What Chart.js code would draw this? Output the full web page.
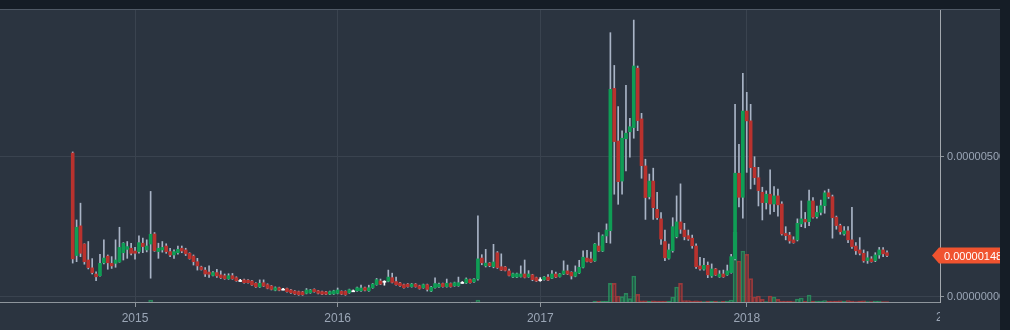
<!DOCTYPE html>
<html lang="en">
<head>
<meta charset="UTF-8">
<title>Weekly candles</title>
<script src="https://cdn.jsdelivr.net/npm/chart.js"></script>
<style>
  html, body { margin: 0; padding: 0; background: #2b3440; }
</style>
</head>
<body>
<canvas id="priceChart" width="1010" height="330"></canvas>
<script>
// weekly candles, prices in satoshi (1e-8)
const open = [
  514,148,254,189,132,104,82,76,122,146,
  120,120,125,158,170,174,164,162,192,168,
  189,225,162,168,182,162,150,158,174,168,
  156,146,126,107,96,89,77,87,79,76,
  65,76,69,59,61,60,57,49,36,51,
  44,39,24,33,28,30,25,21,19,18,
  13,15,27,22,19,18,10,11,13,20,
  20,15,22,22,22,33,22,33,44,57,
  56,56,69,55,50,44,46,37,46,40,
  33,44,21,33,36,48,37,48,40,40,
  52,50,62,54,64,139,111,121,108,158,
  108,107,93,71,71,73,82,72,79,69,
  62,62,71,67,82,73,82,93,88,74,
  86,106,139,136,129,182,164,218,237,745,
  557,414,565,590,605,817,636,468,358,414,
  313,279,198,138,165,215,268,239,219,210,
  182,111,99,113,75,100,72,82,79,87,
  136,442,356,664,629,463,426,374,337,367,
  332,361,332,227,221,204,204,261,277,269,
  343,287,302,326,372,358,285,255,225,236,
  204,182,168,156,130,136,130,150,168,158
];
const high = [
  518,275,335,190,198,137,90,152,204,150,
  144,204,249,194,198,192,177,218,210,204,
  377,230,192,198,190,174,168,182,182,174,
  158,150,138,110,105,111,91,99,93,82,
  83,84,72,63,64,62,59,51,61,61,
  47,41,36,35,31,32,27,23,21,20,
  30,27,29,24,21,20,21,24,32,22,
  22,28,25,35,42,35,42,48,66,64,
  58,96,85,71,52,46,48,48,48,42,
  46,46,38,68,50,50,64,50,53,71,
  55,68,64,66,290,151,170,123,188,162,
  154,109,100,85,85,111,132,94,81,71,
  69,73,80,94,89,84,129,114,90,111,
  131,165,167,160,191,230,222,261,944,827,
  680,593,756,638,989,825,656,492,439,460,
  374,301,239,189,283,361,404,263,239,221,
  190,142,138,125,118,102,94,96,114,152,
  688,545,799,731,688,501,463,392,379,454,
  394,385,340,251,231,215,279,343,302,382,
  355,325,346,379,385,364,289,260,251,251,
  320,194,212,168,162,144,158,177,176,165
];
const low = [
  121,126,144,117,100,82,58,74,118,99,
  102,106,124,132,138,150,135,156,158,161,
  67,163,138,160,156,144,138,153,158,148,
  135,114,96,96,73,70,75,70,66,63,
  63,63,56,55,49,49,41,34,34,37,
  29,25,22,22,25,17,13,9,6,6,
  11,13,17,11,8,8,8,9,11,8,
  6,13,19,20,20,22,20,31,42,44,
  42,54,50,42,38,31,35,35,35,28,
  31,21,19,31,34,35,35,35,38,38,
  49,48,49,52,60,115,107,108,104,102,
  94,93,75,69,69,71,68,70,58,55,
  56,60,58,65,69,71,80,80,64,72,
  84,104,125,123,127,162,162,194,192,367,
  331,367,450,499,567,594,424,277,350,277,
  277,188,130,135,160,211,227,204,202,174,
  102,96,96,69,70,77,70,70,77,85,
  132,322,281,445,386,402,325,275,314,296,
  305,289,221,204,192,192,200,251,247,255,
  281,281,293,299,352,210,242,224,221,194,
  173,152,150,124,120,124,126,138,144,144
];
const close = [
  136,249,156,126,105,87,72,120,139,122,
  111,132,177,192,180,156,156,194,180,182,
  224,165,174,177,162,150,162,170,164,154,
  137,126,111,98,82,81,87,75,69,65,
  76,65,58,59,51,51,43,36,49,39,
  31,27,33,24,28,19,15,11,8,8,
  25,25,19,13,10,10,19,22,25,10,
  8,26,22,33,32,24,33,46,62,46,
  56,71,52,44,40,33,37,46,37,30,
  44,27,35,48,46,37,49,37,51,51,
  52,64,51,64,136,122,121,112,125,105,
  96,95,77,83,83,82,70,82,62,57,
  62,71,60,82,71,82,93,82,75,89,
  106,142,127,125,189,164,218,239,742,555,
  412,567,585,608,825,630,469,355,414,319,
  283,207,140,168,251,268,242,215,207,183,
  108,100,113,79,100,79,82,72,93,144,
  442,356,664,629,462,426,380,337,367,332,
  361,329,225,219,200,194,263,279,268,343,
  285,302,326,372,358,283,255,233,236,204,
  180,165,156,129,140,126,150,168,154,148
];
const volume = [
  0,0,0,0,0,0,0,0,0,0,
  0,0,0,0,0,0,0,0,0,0,
  20,0,0,0,0,0,0,0,0,0,
  0,0,0,0,0,0,0,0,0,0,
  0,0,0,0,0,0,0,0,0,0,
  0,0,0,0,0,0,0,0,0,0,
  0,0,0,0,0,0,0,0,0,0,
  0,0,0,0,0,0,0,0,0,0,
  0,0,0,0,0,0,0,0,0,0,
  0,0,0,0,0,0,0,0,0,0,
  0,0,0,0,20,0,0,0,0,0,
  0,0,0,0,0,0,0,0,0,0,
  0,0,0,0,0,0,0,0,0,0,
  0,0,0,0,8,10,8,8,187,187,
  60,53,87,33,260,77,12,12,6,12,
  10,10,10,8,50,150,187,15,15,10,
  12,10,5,8,6,8,5,6,10,20,
  700,410,510,477,233,50,60,27,5,60,
  50,27,10,10,8,5,30,40,10,70,
  8,10,10,15,10,10,8,12,10,15,
  10,5,8,12,5,5,10,10,5,5
];

// first week of each year (candle index)
const yearIdx = [16, 68, 120, 173, 225];
const yearLabels = ['2015', '2016', '2017', '2018', '2019'];
const priceTicks = [0, 500];

const UP = '#0f9d55';
const DOWN = '#b9322e';
const DOJI = '#ffffff';
const WICK = '#a9b4c6';
const TEXT = '#9ba6b6';
const GRID = '#3a434f';
const AXIS = '#8e959c';

const fmt = v => (v / 1e8).toFixed(8);
const lastPrice = close[close.length - 1];

const idx = open.map((_, i) => i);
const dir = idx.map(i => Math.sign(close[i] - open[i]));
const bodyColor = dir.map(d => d > 0 ? UP : d < 0 ? DOWN : DOJI);
const wickColor = dir.map(d => d === 0 ? DOJI : WICK);
const volFill = dir.map(d => d >= 0 ? 'rgba(20,150,85,0.30)' : 'rgba(185,50,46,0.32)');
const volLine = dir.map(d => d >= 0 ? 'rgba(45,160,100,0.75)' : 'rgba(185,60,60,0.75)');

const frame = {
    id: 'frame',
    beforeDraw(chart) {
        const c = chart.ctx;
        c.save();
        c.fillStyle = '#2b3440';
        c.fillRect(0, 0, chart.width, chart.height);
        c.restore();
    },
    afterDraw(chart) {
        const c = chart.ctx, a = chart.chartArea;
        const xs = chart.scales.x, ys = chart.scales.y;
        c.save();

        // next year label, cut by the price axis
        c.save();
        c.beginPath();
        c.rect(0, a.bottom, a.right, chart.height - a.bottom);
        c.clip();
        c.fillStyle = TEXT;
        c.font = '12px "Liberation Sans"';
        c.textAlign = 'center';
        c.textBaseline = 'top';
        c.fillText(yearLabels[4], xs.getPixelForValue(yearIdx[4]), a.bottom + 10);
        c.restore();

        // last price tag
        const py = Math.round(ys.getPixelForValue(lastPrice)) - 0.5;
        c.fillStyle = '#f0532f';
        c.beginPath();
        c.moveTo(a.right - 8, py);
        c.lineTo(a.right - 1, py - 8);
        c.lineTo(chart.width, py - 8);
        c.lineTo(chart.width, py + 8);
        c.lineTo(a.right - 1, py + 8);
        c.closePath();
        c.fill();
        c.fillStyle = '#ffffff';
        c.font = '11px "Liberation Sans"';
        c.textBaseline = 'middle';
        c.fillText(fmt(lastPrice), a.right + 4, py + 1);

        // dark frame on top and right
        c.fillStyle = '#151d26';
        c.fillRect(0, 0, chart.width, a.top - 1);
        c.fillRect(a.right + 60, 0, chart.width - a.right - 60, chart.height);
        c.fillStyle = '#4f5965';
        c.fillRect(0, a.top - 1, a.right + 60, 1);
        c.restore();
    }
};

new Chart(document.getElementById('priceChart').getContext('2d'), {
    type: 'bar',
    data: {
        datasets: [
            {
                label: 'body',
                data: idx.map(i => ({ x: i, y: [open[i], close[i]] })),
                backgroundColor: bodyColor,
                barThickness: 3,
                minBarLength: 1,
                grouped: false,
                order: 1
            },
            {
                label: 'wick',
                data: idx.map(i => ({ x: i, y: [low[i], high[i]] })),
                backgroundColor: wickColor,
                barThickness: 1,
                grouped: false,
                order: 2
            },
            {
                label: 'volume',
                data: idx.map(i => ({ x: i, y: volume[i] || null })),
                backgroundColor: volFill,
                borderColor: volLine,
                borderWidth: 1,
                barThickness: 4,
                grouped: false,
                yAxisID: 'yv',
                order: 3
            }
        ]
    },
    options: {
        responsive: false,
        animation: false,
        devicePixelRatio: 1,
        layout: { padding: { top: 10, right: 10, left: 0, bottom: 0 } },
        plugins: { legend: { display: false }, tooltip: { enabled: false } },
        scales: {
            x: {
                type: 'linear',
                min: -18.66,
                max: 222.6,
                offset: false,
                afterBuildTicks: s => { s.ticks = yearIdx.filter(v => v <= s.max).map(v => ({ value: v })); },
                afterFit: s => { s.height = 28; },
                grid: { color: GRID, tickColor: AXIS, tickLength: 5, offset: false },
                border: { color: AXIS },
                ticks: {
                    color: TEXT,
                    font: { family: 'Liberation Sans', size: 12 },
                    padding: 4,
                    maxRotation: 0,
                    autoSkip: false,
                    callback: v => yearLabels[yearIdx.indexOf(v)]
                }
            },
            y: {
                position: 'right',
                min: -18,
                max: 1025,
                afterBuildTicks: s => { s.ticks = priceTicks.map(v => ({ value: v })); },
                afterFit: s => { s.width = 60; },
                grid: { color: GRID, tickColor: AXIS, tickLength: 4 },
                border: { color: '#a3a8ae' },
                ticks: {
                    color: TEXT,
                    font: { family: 'Liberation Sans', size: 11 },
                    padding: 3,
                    callback: v => fmt(v)
                }
            },
            yv: {
                display: false,
                min: 0,
                max: 2920
            }
        }
    },
    plugins: [frame]
});
</script>
</body>
</html>
